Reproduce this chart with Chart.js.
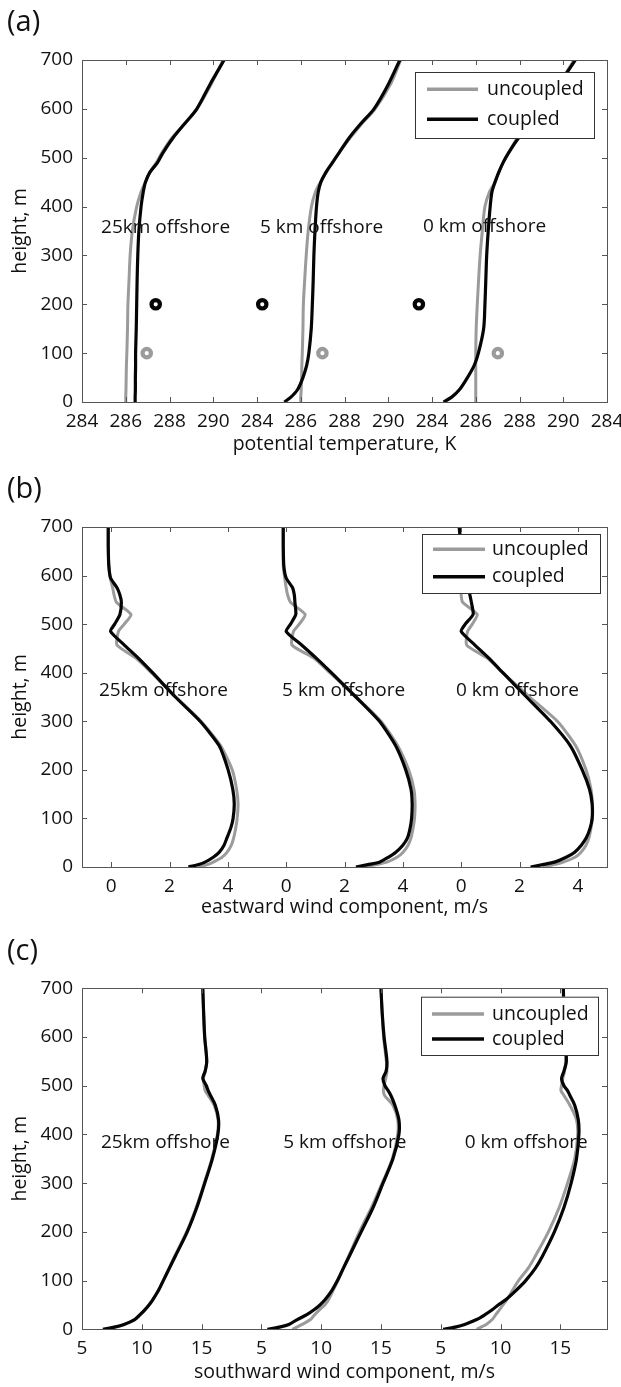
<!DOCTYPE html>
<html>
<head>
<meta charset="utf-8">
<script src="https://cdn.jsdelivr.net/npm/chart.js@4.4.1/dist/chart.umd.min.js"></script>
<style>
  body { margin: 0; background: #fff; }
  canvas { display: block; }
</style>
</head>
<body>
<canvas id="theta" width="621" height="460"></canvas>
<canvas id="east" width="621" height="460"></canvas>
<canvas id="south" width="621" height="467"></canvas>
<script>
const sites = ['25km offshore', '5 km offshore', '0 km offshore'];
const runs = ['uncoupled', 'coupled'];

// (a) potential temperature, K
const thetaHeights = [0, 10, 25, 50, 75, 100, 150, 200, 250, 300, 350, 400, 430, 450, 470, 490, 510, 540, 570, 600, 650, 700];
const theta25Unc = [286.0, 286.0, 286.01, 286.02, 286.03, 286.05, 286.08, 286.1, 286.15, 286.2, 286.3, 286.5, 286.7, 286.9, 287.1, 287.4, 287.65, 288.1, 288.7, 289.25, 289.9, 290.45];
const theta25Cpl = [286.43, 286.43, 286.44, 286.44, 286.45, 286.45, 286.48, 286.5, 286.52, 286.55, 286.6, 286.7, 286.8, 286.9, 287.1, 287.45, 287.7, 288.15, 288.7, 289.25, 289.85, 290.5];
const theta5Unc = [286.0, 286.0, 286.02, 286.04, 286.05, 286.07, 286.1, 286.12, 286.18, 286.25, 286.34, 286.49, 286.67, 286.9, 287.15, 287.45, 287.75, 288.25, 288.8, 289.4, 290.1, 290.57];
const theta5Cpl = [285.25, 285.55, 285.85, 286.1, 286.27, 286.37, 286.48, 286.53, 286.57, 286.6, 286.65, 286.72, 286.8, 286.92, 287.15, 287.45, 287.75, 288.2, 288.75, 289.35, 290.0, 290.53];
const theta0Unc = [286.0, 286.0, 286.0, 286.0, 286.0, 286.0, 286.02, 286.07, 286.13, 286.2, 286.3, 286.42, 286.63, 286.88, 287.05, 287.25, 287.5, 287.9, 288.5, 289.05, 289.78, 290.5];
const theta0Cpl = [284.53, 284.9, 285.25, 285.62, 285.93, 286.12, 286.36, 286.42, 286.46, 286.5, 286.57, 286.66, 286.74, 286.88, 287.05, 287.25, 287.5, 287.95, 288.55, 289.1, 289.82, 290.55];
const thetaTickLabels = ['284', '286', '288', '290'];
// ring markers: coupled at 200 m, uncoupled at 100 m
const ringCplTheta = [287.37, 284.24, 283.4];
const ringCplHeight = [200, 200, 200];
const ringUncTheta = [286.96, 286.99, 287.01];
const ringUncHeight = [100, 100, 100];

// (b) eastward wind component, m/s
const eastHeights = [0, 5, 10, 20, 30, 45, 60, 80, 100, 130, 160, 200, 250, 300, 350, 400, 430, 457, 485, 500, 520, 545, 560, 575, 595, 620, 660, 700];
const east25Unc = [2.95, 3.3, 3.5, 3.8, 3.97, 4.12, 4.2, 4.27, 4.32, 4.35, 4.3, 4.15, 3.75, 3.08, 2.22, 1.38, 0.85, 0.2, 0.25, 0.45, 0.68, 0.18, 0.1, 0.05, -0.03, -0.08, -0.1, -0.1];
const east25Cpl = [2.65, 3.0, 3.22, 3.5, 3.7, 3.87, 3.97, 4.1, 4.18, 4.22, 4.17, 4.01, 3.7, 3.05, 2.2, 1.42, 0.93, 0.45, -0.02, 0.12, 0.3, 0.35, 0.3, 0.2, -0.02, -0.08, -0.1, -0.1];
const east5Unc = [2.7, 3.1, 3.45, 3.8, 4.0, 4.18, 4.28, 4.35, 4.4, 4.42, 4.38, 4.2, 3.82, 3.25, 2.4, 1.5, 0.95, 0.2, 0.25, 0.45, 0.65, 0.15, 0.05, 0.0, -0.05, -0.1, -0.1, -0.1];
const east5Cpl = [2.39, 2.8, 3.2, 3.5, 3.75, 4.0, 4.16, 4.25, 4.3, 4.32, 4.28, 4.1, 3.75, 3.2, 2.39, 1.55, 1.03, 0.53, 0.0, 0.15, 0.33, 0.3, 0.28, 0.22, 0.0, -0.08, -0.1, -0.1];
const east0Unc = [2.8, 3.2, 3.5, 3.9, 4.1, 4.28, 4.38, 4.45, 4.5, 4.5, 4.45, 4.28, 3.92, 3.3, 2.35, 1.42, 0.9, 0.19, 0.22, 0.38, 0.55, 0.05, 0.0, 0.0, -0.02, -0.03, -0.04, -0.05];
const east0Cpl = [2.38, 2.8, 3.2, 3.6, 3.88, 4.12, 4.29, 4.42, 4.49, 4.49, 4.4, 4.15, 3.74, 3.06, 2.24, 1.43, 0.95, 0.47, 0.0, 0.14, 0.41, 0.35, 0.3, 0.25, 0.12, 0.05, 0.0, -0.07];
const eastTickLabels = ['0', '2', '4'];

// (c) southward wind component, m/s
const southHeights = [0, 5, 10, 20, 30, 40, 50, 60, 80, 100, 125, 150, 200, 250, 300, 350, 400, 430, 460, 480, 490, 500, 515, 530, 550, 600, 650, 700];
const south25Unc = [6.8, 7.9, 8.6, 9.45, 9.9, 10.28, 10.62, 10.9, 11.4, 11.78, 12.28, 12.75, 13.75, 14.55, 15.22, 15.85, 16.32, 16.38, 16.05, 15.55, 15.3, 15.22, 15.15, 15.3, 15.43, 15.26, 15.17, 15.1];
const south25Cpl = [6.75, 7.8, 8.5, 9.4, 9.85, 10.25, 10.6, 10.9, 11.4, 11.8, 12.3, 12.8, 13.8, 14.6, 15.26, 15.9, 16.36, 16.42, 16.15, 15.75, 15.55, 15.4, 15.1, 15.3, 15.43, 15.26, 15.17, 15.1];
const south5Unc = [7.6, 8.0, 8.4, 9.1, 9.45, 9.85, 10.3, 10.6, 11.0, 11.4, 11.85, 12.3, 13.2, 14.2, 15.1, 15.95, 16.4, 16.4, 16.0, 15.3, 15.2, 15.25, 15.4, 15.5, 15.45, 15.22, 15.1, 15.0];
const south5Cpl = [5.5, 6.6, 7.3, 8.0, 8.8, 9.4, 9.9, 10.3, 10.9, 11.36, 11.85, 12.35, 13.34, 14.34, 15.17, 16.0, 16.5, 16.5, 16.16, 15.83, 15.6, 15.33, 15.17, 15.43, 15.5, 15.26, 15.1, 15.0];
const south0Unc = [8.0, 8.4, 8.8, 9.3, 9.6, 9.9, 10.2, 10.5, 11.0, 11.5, 12.3, 12.9, 14.0, 14.9, 15.6, 16.2, 16.45, 16.35, 15.8, 15.3, 15.05, 15.1, 15.2, 15.35, 15.45, 15.4, 15.3, 15.25];
const south0Cpl = [5.2, 6.3, 7.0, 8.0, 8.7, 9.3, 9.8, 10.4, 11.3, 12.1, 12.9, 13.5, 14.5, 15.3, 15.9, 16.35, 16.55, 16.5, 16.2, 15.8, 15.6, 15.3, 15.1, 15.3, 15.5, 15.4, 15.3, 15.25];
const southTickLabels = ['5', '10', '15'];

const GREY = '#9b9b9b';
const BLACK = '#050505';
const FONT = "'Open Sans', sans-serif";
const TEXT = '#111';

// panel geometry: each site is drawn shifted along x by its offset
const panels = [
  {
    id: 'theta', letter: '(a)', title: 'potential temperature, K',
    heights: thetaHeights,
    profiles: [[theta25Unc, theta25Cpl], [theta5Unc, theta5Cpl], [theta0Unc, theta0Cpl]],
    offsets: [0, 8, 16], min: 284, max: 308, tickStart: 284, tickStep: 2, tickCount: 13,
    tickLabels: thetaTickLabels, tension: 0.3,
    rings: true,
    labelAt: [[284.87, 356], [284.14, 356], [283.59, 360]],
    top: 60, axisH: 54.4, padB: 3.6,
    legend: {x: 415, y: 72, w: 179, h: 66, rows: [89.3, 119.3], line: [427, 478], text: 487}
  },
  {
    id: 'east', letter: '(b)', title: 'eastward wind component, m/s',
    heights: eastHeights,
    profiles: [[east25Unc, east25Cpl], [east5Unc, east5Cpl], [east0Unc, east0Cpl]],
    offsets: [0, 6, 12], min: -1, max: 17, tickStart: 0, tickStep: 2, tickCount: 9,
    tickLabels: eastTickLabels, tension: 0.2,
    rings: false,
    labelAt: [[-0.42, 364], [-0.14, 364], [-0.18, 364]],
    top: 67, axisH: 52.4, padB: 0.6,
    legend: {x: 422, y: 74, w: 178, h: 59, rows: [89.3, 116.7], line: [433, 485], text: 492}
  },
  {
    id: 'south', letter: '(c)', title: 'southward wind component, m/s',
    heights: southHeights,
    profiles: [[south25Unc, south25Cpl], [south5Unc, south5Cpl], [south0Unc, south0Cpl]],
    offsets: [0, 15, 30], min: 5, max: 48.9, tickStart: 5, tickStep: 5, tickCount: 9,
    tickLabels: southTickLabels, tension: 0.3,
    rings: false,
    labelAt: [[6.58, 383], [6.83, 383], [7.0, 383]],
    top: 68.3, axisH: 54.4, padB: 3.3,
    legend: {x: 421, y: 76.7, w: 177, h: 58.3, rows: [94, 119], line: [432, 484], text: 492}
  }
];

// box, inward ticks, site names, legend and panel letter
const decorations = {
  id: 'decorations',
  afterDatasetsDraw(chart, args, opts) {
    const {ctx, chartArea: a, scales: {x, y}} = chart;
    const p = opts.panel;
    ctx.save();

    ctx.font = '19px ' + FONT;
    ctx.fillStyle = TEXT;
    ctx.textAlign = 'left';
    ctx.textBaseline = 'middle';
    p.labelAt.forEach((pos, i) => {
      ctx.fillText(sites[i], x.getPixelForValue(pos[0] + p.offsets[i]), y.getPixelForValue(pos[1]));
    });

    ctx.strokeStyle = '#555';
    ctx.lineWidth = 1;
    ctx.beginPath();
    x.ticks.forEach(t => {
      const px = Math.round(x.getPixelForValue(t.value)) + 0.5;
      ctx.moveTo(px, a.bottom); ctx.lineTo(px, a.bottom - 5);
      ctx.moveTo(px, a.top); ctx.lineTo(px, a.top + 5);
    });
    y.ticks.forEach(t => {
      const py = Math.round(y.getPixelForValue(t.value)) + 0.5;
      ctx.moveTo(a.left, py); ctx.lineTo(a.left + 5, py);
      ctx.moveTo(a.right, py); ctx.lineTo(a.right - 5, py);
    });
    ctx.stroke();
    ctx.strokeRect(Math.round(a.left) + 0.5, Math.round(a.top) + 0.5, Math.round(a.width), Math.round(a.height));

    const L = p.legend;
    ctx.fillStyle = '#fff';
    ctx.fillRect(L.x, L.y, L.w, L.h);
    ctx.strokeStyle = '#333';
    ctx.strokeRect(L.x + 0.5, L.y + 0.5, L.w, L.h);
    [GREY, BLACK].forEach((col, i) => {
      ctx.strokeStyle = col;
      ctx.lineWidth = 3.5;
      ctx.beginPath();
      ctx.moveTo(L.line[0], L.rows[i]);
      ctx.lineTo(L.line[1], L.rows[i]);
      ctx.stroke();
      ctx.fillStyle = TEXT;
      ctx.font = '19.5px ' + FONT;
      ctx.fillText(runs[i], L.text, L.rows[i]);
    });

    ctx.font = '29px ' + FONT;
    ctx.fillStyle = TEXT;
    ctx.fillText(p.letter, 7, a.top - 37);
    ctx.restore();
  }
};

function buildDatasets(p) {
  const sets = [];
  p.profiles.forEach((pair, s) => {
    pair.forEach((vals, r) => {
      sets.push({
        label: sites[s] + ' ' + runs[r],
        data: vals.map((v, k) => ({x: v + p.offsets[s], y: p.heights[k]})),
        borderColor: r === 0 ? GREY : BLACK,
        borderWidth: r === 0 ? 3 : 3.2,
        pointRadius: 0,
        tension: p.tension,
        clip: 0,
        order: r === 0 ? 3 : 2
      });
    });
  });
  if (p.rings) {
    [[ringUncTheta, ringUncHeight, GREY], [ringCplTheta, ringCplHeight, BLACK]].forEach(([vals, hs, col]) => {
      sets.push({
        type: 'scatter',
        data: vals.map((v, k) => ({x: v + p.offsets[k], y: hs[k]})),
        showLine: false,
        pointRadius: 4.2,
        pointBorderWidth: 4.2,
        pointBorderColor: col,
        pointBackgroundColor: '#fff',
        order: 1
      });
    });
  }
  return sets;
}

panels.forEach(p => {
  const canvas = document.getElementById(p.id);
  new Chart(canvas, {
    type: 'line',
    data: {datasets: buildDatasets(p)},
    options: {
      responsive: false,
      animation: false,
      devicePixelRatio: 1,
      layout: {padding: {left: 6, right: 14, top: p.top, bottom: p.padB}},
      plugins: {
        legend: {display: false},
        tooltip: {enabled: false},
        decorations: {panel: p}
      },
      scales: {
        x: {
          type: 'linear', min: p.min, max: p.max,
          afterBuildTicks(s) {
            s.ticks = Array.from({length: p.tickCount}, (_, i) => ({value: p.tickStart + i * p.tickStep}));
          },
          afterFit(s) { s.height = p.axisH; s.paddingLeft = 0; s.paddingRight = 0; },
          ticks: {
            autoSkip: false, maxRotation: 0, padding: 8, color: TEXT,
            font: {family: FONT, size: 19},
            callback: (v, i) => p.tickLabels[i % p.tickLabels.length]
          },
          grid: {display: false, drawTicks: false},
          border: {display: false},
          title: {display: true, text: p.title, color: TEXT, font: {family: FONT, size: 19.5}, padding: 0}
        },
        y: {
          type: 'linear', min: 0, max: 700,
          afterFit(s) { s.width = 76; s.paddingTop = 0; s.paddingBottom = 0; },
          ticks: {stepSize: 100, padding: 9, color: TEXT, font: {family: FONT, size: 19}},
          grid: {display: false, drawTicks: false},
          border: {display: false},
          title: {display: true, text: 'height, m', color: TEXT, font: {family: FONT, size: 19.5}, padding: {top: 3, bottom: 0}}
        }
      }
    },
    plugins: [decorations]
  });
});
</script>
</body>
</html>
